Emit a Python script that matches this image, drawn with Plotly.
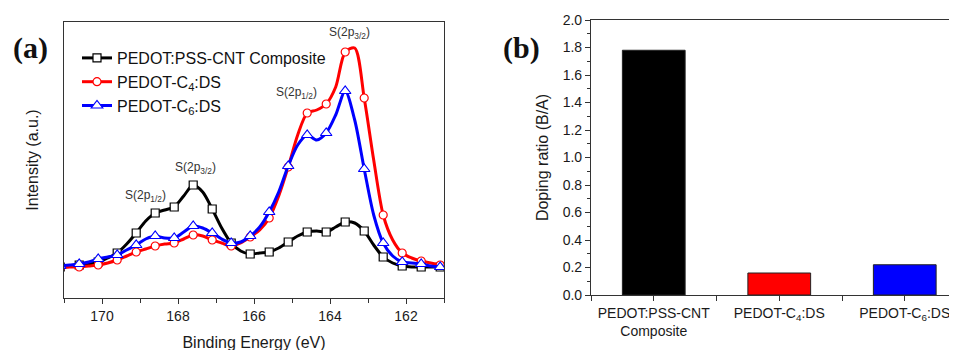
import plotly.graph_objects as go

# ---------------- data ----------------
energy = [171.1, 170.85, 170.6, 170.35, 170.1, 169.85, 169.6, 169.35, 169.1, 168.85,
          168.6, 168.35, 168.1, 167.85, 167.6, 167.35, 167.1, 166.85, 166.6, 166.35,
          166.1, 165.85, 165.6, 165.35, 165.1, 164.85, 164.6, 164.35, 164.1, 163.85,
          163.6, 163.35, 163.1, 162.85, 162.6, 162.35, 162.1, 161.85, 161.6, 161.35, 161.1]
pss_cnt = [33, 34, 35, 36, 38, 42, 47, 56, 67, 79,
           87, 90, 93, 104, 115, 108, 91, 72, 57, 49,
           46, 47, 48, 52, 58, 64, 68, 69, 68, 73,
           78, 77, 69, 55, 43, 37, 34, 33, 33, 33, 33]
c4_ds = [32, 33, 33, 34, 35, 37, 40, 44, 48, 51,
         54, 56, 57, 61, 65, 64, 60, 57, 54, 57,
         63, 70, 82, 104, 133, 165, 187, 190, 196, 213,
         248, 252, 202, 140, 85, 60, 47, 42, 39, 37, 35]
c6_ds = [34, 35, 36, 38, 41, 43, 45, 50, 55, 61,
         64, 62, 62, 68, 74, 72, 67, 61, 57, 58,
         64, 73, 88, 108, 134, 155, 165, 160, 167, 185,
         209, 180, 131, 85, 57, 44, 38, 37, 36, 34, 33]
series_names = ["PEDOT:PSS-CNT Composite", "PEDOT-C<sub>4</sub>:DS", "PEDOT-C<sub>6</sub>:DS"]

bar_labels = ["PEDOT:PSS-CNT<br>Composite", "PEDOT-C<sub>4</sub>:DS", "PEDOT-C<sub>6</sub>:DS"]
doping_ratio = [1.78, 0.16, 0.22]

# ---------------- figure ----------------
W, H = 957, 350
OX, OY = 8, 8   # page body margin offset compensation


def px(x):
    return (x - OX) / W


def py(y):
    return 1 - (y - OY) / H


fig = go.Figure()

colors = ["#000000", "#ff0000", "#0000ff"]
symbols = ["square", "circle", "triangle-up"]
msizes = [8, 8, 10]
for name, ys, col, sym, ms in zip(series_names, [pss_cnt, c4_ds, c6_ds], colors, symbols, msizes):
    fig.add_trace(go.Scatter(
        x=energy, y=ys, mode="lines", line=dict(color=col, width=3, shape="spline", smoothing=0.8),
        showlegend=False, hoverinfo="skip", xaxis="x", yaxis="y"))
    fig.add_trace(go.Scatter(
        x=energy[::2], y=ys[::2], mode="markers", showlegend=False,
        marker=dict(symbol=sym, size=ms, color="white", line=dict(color=col, width=1.2)),
        xaxis="x", yaxis="y"))
    fig.add_trace(go.Scatter(
        x=[None], y=[None], mode="lines+markers", name=name,
        line=dict(color=col, width=3),
        marker=dict(symbol=sym, size=ms, color="white", line=dict(color=col, width=1.2)),
        xaxis="x", yaxis="y"))

fig.add_trace(go.Bar(
    x=[0, 1, 2], y=doping_ratio, width=0.5,
    marker=dict(color=colors, line=dict(color="#222222", width=1)),
    showlegend=False, xaxis="x2", yaxis="y2"))

axis_font = dict(family="Arial, Liberation Sans, sans-serif", size=14, color="#1a1a1a")
title_font = dict(family="Arial, Liberation Sans, sans-serif", size=16, color="#1a1a1a")

fig.update_layout(
    width=W, height=H,
    margin=dict(l=0, r=0, t=0, b=0, autoexpand=False),
    paper_bgcolor="white", plot_bgcolor="white",
    font=dict(family="Arial, Liberation Sans, sans-serif", color="#1a1a1a"),
    xaxis=dict(domain=[px(64), px(444)], range=[171, 161], anchor="y",
               showline=True, linecolor="#333333", linewidth=1.2, mirror=True,
               ticks="outside", ticklen=5, tickcolor="#333333", dtick=2, tick0=170,
               minor=dict(ticks="outside", dtick=1, ticklen=4, tickcolor="#333333"),
               showgrid=False, zeroline=False, tickfont=axis_font, automargin=False,
               title=dict(text="Binding Energy (eV)", font=title_font, standoff=13)),
    yaxis=dict(domain=[py(298), py(22)], range=[2, 278], anchor="x",
               showline=True, linecolor="#333333", linewidth=1.2, mirror=True,
               ticks="", showticklabels=False, showgrid=False, zeroline=False, automargin=False,
               title=dict(text="Intensity (a.u.)", font=title_font, standoff=20)),
    xaxis2=dict(domain=[px(591), 1.0], range=[-0.5, 2.48], anchor="y2",
                showline=True, linecolor="#333333", linewidth=1.2, mirror=True,
                tickmode="array", tickvals=[0, 1, 2], ticktext=bar_labels,
                ticks="outside", ticklen=5, tickcolor="#333333",
                minor=dict(tickmode="array", tickvals=[-0.5, 0.5, 1.5], ticks="outside",
                           ticklen=5, tickcolor="#333333"),
                showgrid=False, zeroline=False, automargin=False,
                tickfont=dict(family="Arial, Liberation Sans, sans-serif", size=14, color="#1a1a1a")),
    yaxis2=dict(domain=[py(295), py(20)], range=[0, 2.0], anchor="x2",
                showline=True, linecolor="#333333", linewidth=1.2, mirror=False,
                ticks="outside", ticklen=5, tickcolor="#333333", dtick=0.2, tickformat=".1f",
                minor=dict(ticks="outside", dtick=0.1, ticklen=3, tickcolor="#333333"),
                showgrid=False, zeroline=False, tickfont=axis_font, automargin=False,
                title=dict(text="Doping ratio (B/A)", font=title_font, standoff=10)),
    legend=dict(x=px(77), y=py(41), xanchor="left", yanchor="top",
                bgcolor="rgba(0,0,0,0)", borderwidth=0, tracegroupgap=0,
                font=dict(family="Arial, Liberation Sans, sans-serif", size=16, color="#111111"),
                itemwidth=30),
    showlegend=True,
)

ann_font = dict(family="Arial, Liberation Sans, sans-serif", size=12, color="#333333")
for txt, ex, iy in [("S(2p<sub>3/2</sub>)", 163.5, 267), ("S(2p<sub>1/2</sub>)", 164.88, 207),
                    ("S(2p<sub>3/2</sub>)", 167.53, 132), ("S(2p<sub>1/2</sub>)", 168.85, 104)]:
    fig.add_annotation(x=ex, y=iy, xref="x", yref="y", text=txt, showarrow=False, font=ann_font)

label_font = dict(family="Liberation Serif, Times New Roman, serif", size=30, color="#111111")
fig.add_annotation(x=px(30), y=py(48), xref="paper", yref="paper", text="<b>(a)</b>",
                   xanchor="center", yanchor="middle", showarrow=False, font=label_font)
fig.add_annotation(x=px(521), y=py(48), xref="paper", yref="paper", text="<b>(b)</b>",
                   xanchor="center", yanchor="middle", showarrow=False, font=label_font)

fig.write_html("out.html")
